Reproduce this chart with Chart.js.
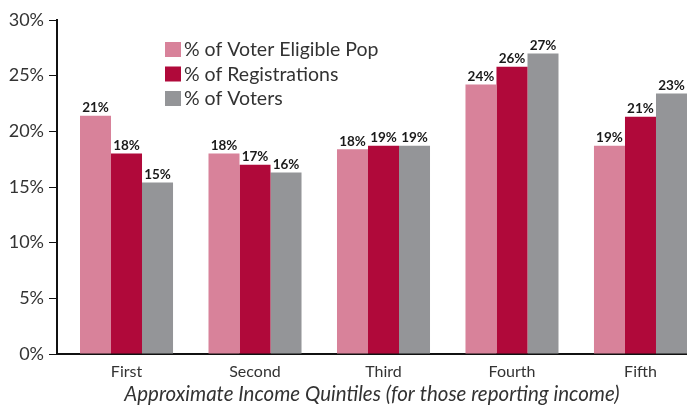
<!DOCTYPE html>
<html>
<head>
<meta charset="utf-8">
<script src="https://cdn.jsdelivr.net/npm/chart.js@4.4.1/dist/chart.umd.min.js"></script>
<style>
  html, body { margin: 0; padding: 0; background: #fff; overflow: hidden; }
  #wrap { width: 687px; height: 409px; position: relative; }
</style>
</head>
<body>
<div id="wrap"><canvas id="mainChart"></canvas></div>
<script>
// Income quintile chart
const categories = ['First', 'Second', 'Third', 'Fourth', 'Fifth'];
const seriesNames = ['% of Voter Eligible Pop', '% of Registrations', '% of Voters'];
const eligiblePop = [21.4, 18.0, 18.4, 24.2, 18.7];
const registrations = [18.0, 17.0, 18.7, 25.8, 21.3];
const voters = [15.4, 16.3, 18.7, 27.0, 23.4];
const yTicks = [0, 5, 10, 15, 20, 25, 30];

const colors = ['#d8829a', '#b0093a', '#949598'];
const FONT = 'Lato, "Open Sans", sans-serif';

function toPoints(arr){
  return arr.map((v, i) => ({ x: i, y: v }));
}

// value labels above each bar
const barLabels = {
  id: 'barLabels',
  afterDatasetsDraw(chart){
    const ctx = chart.ctx;
    ctx.save();
    ctx.font = 'bold 13.5px ' + FONT;
    ctx.fillStyle = '#1a1a1a';
    ctx.textAlign = 'center';
    ctx.textBaseline = 'bottom';
    chart.data.datasets.forEach((ds, di) => {
      const meta = chart.getDatasetMeta(di);
      meta.data.forEach((bar, i) => {
        const v = ds.data[i].y;
        ctx.fillText(Math.round(v) + '%', bar.x, bar.y - 1);
      });
    });
    ctx.restore();
  }
};

// legend drawn inside the plot area
const innerLegend = {
  id: 'innerLegend',
  afterDraw(chart){
    const ctx = chart.ctx;
    ctx.save();
    ctx.font = '19.5px ' + FONT;
    ctx.textBaseline = 'middle';
    ctx.textAlign = 'left';
    chart.data.datasets.forEach((ds, i) => {
      const cy = 49 + i * 24.5;
      ctx.fillStyle = ds.backgroundColor;
      ctx.fillRect(165, cy - 7, 16, 15);
      ctx.fillStyle = '#333';
      ctx.fillText(ds.label, 184, cy + 1);
    });
    ctx.restore();
  }
};

const ctx = document.getElementById('mainChart').getContext('2d');
new Chart(ctx, {
  type: 'bar',
  data: {
    datasets: [
      { label: seriesNames[0], data: toPoints(eligiblePop), backgroundColor: colors[0] },
      { label: seriesNames[1], data: toPoints(registrations), backgroundColor: colors[1] },
      { label: seriesNames[2], data: toPoints(voters), backgroundColor: colors[2] }
    ]
  },
  options: {
    responsive: true,
    maintainAspectRatio: false,
    animation: false,
    layout: { padding: { top: 20, right: 0, bottom: 0, left: 0 } },
    datasets: { bar: { categoryPercentage: 0.724, barPercentage: 1.0, borderWidth: 0 } },
    plugins: { legend: { display: false }, tooltip: { enabled: false } },
    scales: {
      x: {
        type: 'linear',
        offset: false,
        min: -0.541,
        max: 4.362,
        grid: { display: false, drawTicks: false, offset: false },
        border: { display: true, color: '#111', width: 2 },
        ticks: {
          stepSize: 1,
          includeBounds: false,
          autoSkip: false,
          padding: 8,
          color: '#333',
          font: { family: FONT, size: 16 },
          callback: v => categories[v] !== undefined && Number.isInteger(v) ? categories[v] : ''
        },
        title: {
          display: true,
          text: 'Approximate Income Quintiles (for those reporting income)',
          color: '#333',
          font: { family: FONT, size: 20.5, style: 'italic' },
          padding: { top: 0, bottom: 2 }
        },
        afterFit: s => { s.height = 55; }
      },
      y: {
        min: 0,
        max: 30,
        afterBuildTicks: s => { s.ticks = yTicks.map(v => ({ value: v })); },
        grid: { drawOnChartArea: false, drawTicks: true, tickLength: 8, color: '#111', lineWidth: 1 },
        border: { display: true, color: '#111', width: 2 },
        ticks: {
          padding: 5,
          color: '#333',
          font: { family: FONT, size: 18 },
          callback: v => v + '%'
        },
        afterFit: s => { s.width = 57; }
      }
    }
  },
  plugins: [barLabels, innerLegend]
});
</script>
</body>
</html>
